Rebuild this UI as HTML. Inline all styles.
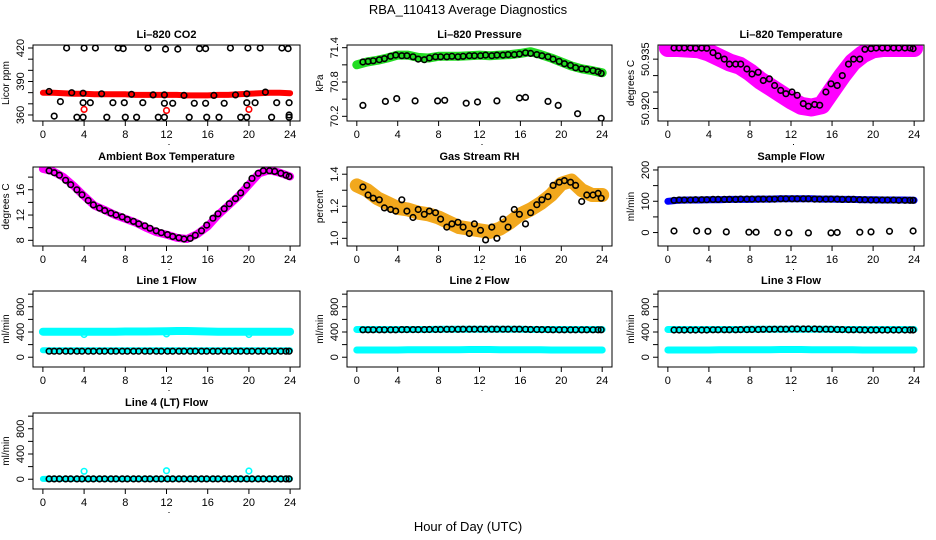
<!DOCTYPE html>
<html><head><meta charset="utf-8"><style>
html,body{margin:0;padding:0;background:#fff;}
svg{display:block;font-family:"Liberation Sans",sans-serif;}
</style></head><body>
<svg id="chart" width="936" height="540" viewBox="0 0 936 540" xmlns="http://www.w3.org/2000/svg">
<text x="468" y="14" text-anchor="middle" font-size="13">RBA_110413  Average Diagnostics</text>
<text x="468" y="531" text-anchor="middle" font-size="13">Hour of Day (UTC)</text>
</svg>
<script>
// ---------- data ----------
const bandHours = [0,1,2,3,4,5,6,7,8,9,10,11,12,13,14,15,16,17,18,19,20,21,22,23,24];
const blackHours = [0.6,1.1,1.6,2.2,2.7,3.3,3.8,4.4,4.9,5.5,6.0,6.6,7.1,7.7,8.2,8.8,9.3,9.9,10.4,11.0,11.5,12.1,12.6,13.2,13.7,14.3,14.8,15.4,15.9,16.5,17.0,17.6,18.1,18.7,19.2,19.8,20.3,20.9,21.4,22.0,22.5,23.1,23.6,23.9];
const xTicks = [0,4,8,12,16,20,24];

// CO2
const co2Band = [380,380,379.5,379,379,378.5,378.5,378.5,378.5,378,378,378,378,378,377.5,377.5,377.5,378,378,378.5,379,379.5,380,380,379.5];
const co2HighHours = [2.3,4.0,5.1,7.3,7.8,10.2,11.9,13.1,15.2,15.8,18.2,19.9,21.1,23.2,23.8];
const co2HighVals = [420,420,420,420,419.5,420,419,419,419.5,419.5,420,420,420,420,419.5];
const co2MidHours = [1.7,3.9,4.6,6.8,7.9,9.7,11.8,12.6,14.7,15.8,17.6,19.8,20.6,22.7,23.9];
const co2MidVals = [372,371,371,371,371,371,370.5,370.5,370.5,370.5,370.5,371,371,371,371];
const co2LowHours = [1.1,3.3,3.9,6.2,8.0,9.1,11.2,11.8,14.2,15.9,17.1,19.2,19.8,22.2,23.9,23.9];
const co2LowVals = [359,358,358,358,358,358,358,358,358,358,358,358,358,358,358,360];
const co2OnHours = [0.6,2.8,3.9,5.7,8.6,10.7,11.8,13.7,16.6,18.7,19.8,21.6];
const co2OnVals = [381,380,379.5,379,378.5,378,378,377.5,377.5,378,379,380.5];
const co2RedOutHours = [4.0,12.0,20.0];
const co2RedOutVals = [365,364,365];

// Pressure
const presBand = [71.10,71.15,71.18,71.22,71.27,71.27,71.23,71.22,71.25,71.25,71.25,71.26,71.27,71.26,71.27,71.28,71.30,71.33,71.28,71.22,71.15,71.08,71.03,71.00,70.96];
const presOnVals = [71.15,71.16,71.17,71.19,71.21,71.25,71.27,71.26,71.26,71.24,71.20,71.19,71.22,71.24,71.24,71.24,71.25,71.24,71.25,71.26,71.26,71.26,71.27,71.26,71.27,71.27,71.28,71.28,71.29,71.31,71.30,71.28,71.26,71.24,71.20,71.16,71.12,71.09,71.05,71.03,71.02,71.00,70.98,70.95];
const presLowHours = [0.6,2.8,3.9,5.7,7.9,8.6,10.7,11.8,13.7,15.9,16.5,18.7,19.7,21.6,23.9];
const presLowVals = [70.39,70.46,70.51,70.47,70.47,70.48,70.43,70.45,70.47,70.52,70.53,70.46,70.39,70.245,70.165];

// Li-820 temperature
const tempBand = [50.9384,50.9384,50.9382,50.9380,50.9370,50.9355,50.9340,50.9330,50.9310,50.9285,50.9265,50.9245,50.9225,50.9208,50.9203,50.9210,50.9255,50.9300,50.9340,50.9365,50.9380,50.9384,50.9384,50.9384,50.9384];
const tempOnVals = [50.9384,50.9384,50.9384,50.9384,50.9383,50.9384,50.9383,50.9370,50.9360,50.9350,50.9335,50.9335,50.9335,50.9320,50.9305,50.9310,50.9285,50.9290,50.9270,50.9255,50.9245,50.9250,50.9240,50.9215,50.9207,50.9212,50.9210,50.9250,50.9275,50.9270,50.9300,50.9335,50.9350,50.9350,50.9380,50.9382,50.9384,50.9384,50.9384,50.9384,50.9384,50.9384,50.9384,50.9382];

// Ambient box temperature
const ambBand = [19.3,18.9,18.0,16.6,15.0,13.5,12.8,12.0,11.4,10.8,10.0,9.3,8.9,8.4,8.2,9.0,10.2,12.0,13.5,15.0,16.8,18.6,19.1,18.7,18.1];
const ambOnVals = [19.0,18.7,18.3,17.5,16.8,16.0,15.2,14.3,13.6,13.1,12.7,12.3,12.0,11.7,11.3,11.0,10.6,10.3,9.9,9.5,9.2,8.9,8.6,8.4,8.2,8.3,8.8,9.5,10.4,11.5,12.2,13.0,13.8,14.6,15.5,16.7,17.8,18.6,19.0,19.0,18.9,18.6,18.3,18.1];

// Gas stream RH
const rhBand = [1.33,1.30,1.25,1.22,1.19,1.18,1.16,1.15,1.13,1.10,1.07,1.06,1.05,1.04,1.06,1.10,1.15,1.18,1.22,1.27,1.34,1.36,1.30,1.27,1.27];
const rhOnVals = [1.32,1.27,1.25,1.24,1.19,1.18,1.17,1.24,1.17,1.13,1.18,1.15,1.17,1.16,1.12,1.07,1.09,1.10,1.07,1.03,1.09,1.05,0.99,1.07,1.00,1.12,1.07,1.18,1.15,1.09,1.16,1.21,1.24,1.26,1.33,1.35,1.36,1.35,1.33,1.23,1.27,1.27,1.28,1.25];

// Sample flow
const sfBand = [100,103,104,104,105,105,106,106,106,107,107,108,108,108,108,107,107,106,106,105,105,104,104,104,103];
const sfOnVals = [103,104,104,104,105,105,105,106,106,106,106,106,107,107,107,107,107,107,107,108,108,108,108,108,108,107,107,107,107,107,106,106,106,105,105,104,104,104,104,104,103,103,103,103];
const sfLowHours = [0.6,2.8,3.9,5.7,7.9,8.6,10.7,11.8,13.7,15.9,16.5,18.7,19.8,21.6,23.9];
const sfLowVals = [5,5,4,2,1,1,0,-1,-1,-1,0,1,2,4,5];

// Line flows
const l1UpperBand = [405,405,405,405,405,405,405,405,408,408,408,410,412,415,415,412,408,405,405,405,405,405,405,405,405];
const l1LowerBand = [110,110,110,110,110,110,110,110,110,110,112,112,112,112,112,112,110,110,110,110,110,110,110,110,110];
const l1BlackVals = [95,95,95,95,95,95,95,95,95,95,95,95,95,95,95,95,95,95,95,95,95,95,95,95,95,95,95,95,95,95,95,95,95,95,95,95,95,95,95,95,95,95,95,95];
const l1OutHours = [4.0,12.0,20.0];
const l1OutVals = [360,370,360];

const l2UpperBand = [440,440,440,440,440,440,440,440,445,445,445,445,445,445,445,445,445,440,440,440,440,440,440,440,440];
const l2LowerBand = [115,115,115,115,115,118,118,118,120,120,120,122,122,122,120,120,120,118,118,115,115,115,115,115,115];
const l2BlackVals = [435,435,435,435,435,435,435,438,438,438,438,438,440,440,440,442,442,442,445,445,445,445,445,445,445,445,445,445,445,442,440,440,438,438,435,435,435,435,435,435,435,435,435,435];

const l3UpperBand = [440,440,440,440,440,440,440,440,445,445,445,445,445,445,445,445,445,440,440,440,440,440,440,440,440];
const l3LowerBand = [115,115,115,115,115,118,118,118,120,120,120,122,122,122,120,120,120,118,118,115,115,115,115,115,115];
const l3BlackVals = [432,432,432,432,432,432,432,435,435,435,435,435,438,438,440,440,442,442,445,445,445,448,448,448,448,448,445,445,442,440,438,435,435,435,432,432,432,432,432,432,432,432,432,432];

const l4Band = [5,5,5,5,5,5,5,5,5,5,5,5,5,5,5,5,5,5,5,5,5,5,5,5,5];
const l4BlackVals = [5,5,5,5,5,5,5,5,5,5,5,5,5,5,5,5,5,5,5,5,5,5,5,5,5,5,5,5,5,5,5,5,5,5,5,5,5,5,5,5,5,5,5,5];
const l4OutHours = [4.0,12.0,20.0];
const l4OutVals = [125,135,130];

// tick definitions (values + printed labels)
const co2Ticks = [360,370,380,390,400,410,420];
const co2TickLabels = ["360","","","390","","","420"];
const presTicks = [70.2,70.5,70.8,71.1,71.4];
const presTickLabels = ["70.2","","70.8","","71.4"];
const tempTicks = [50.920,50.925,50.930,50.935];
const tempTickLabels = ["50.920","","","50.935"];
const ambTicks = [8,10,12,14,16,18];
const ambTickLabels = ["8","","12","","16",""];
const rhTicks = [1.0,1.1,1.2,1.3,1.4];
const rhTickLabels = ["1.0","","1.2","","1.4"];
const sfTicks = [0,50,100,150,200];
const sfTickLabels = ["0","","100","","200"];
const flowTicks = [0,200,400,600,800,1000];
const flowTickLabels = ["0","","400","","800",""];

// ---------- drawing ----------
const NS = "http://www.w3.org/2000/svg";
const svg = document.getElementById("chart");
const colX = [[33,300],[347,612],[658,924]];
const rowY = [[45,121],[167,246],[291,367],[413,489]];

function mk(tag, attrs, parent){
  const e = document.createElementNS(NS, tag);
  for (const k in attrs) e.setAttribute(k, attrs[k]);
  (parent||svg).appendChild(e);
  return e;
}

function panel(name, col, row, title, ylab, ylim, ticks, tickLabels, layers){
  const x0 = colX[col][0], x1 = colX[col][1], y0 = rowY[row][0], y1 = rowY[row][1];
  const g = mk("g", {});
  
  
  const xs = h => x0 + (h + 0.96) / 25.92 * (x1 - x0);
  const ys = v => y1 - (v - ylim[0]) / (ylim[1] - ylim[0]) * (y1 - y0);
  const clipId = "clip-" + name;
  const cp = mk("clipPath", {id: clipId}, g);
  mk("rect", {x: x0, y: y0, width: x1 - x0, height: y1 - y0}, cp);
  const plot = mk("g", {"clip-path": "url(#" + clipId + ")"}, g);
  
  
  for (const L of layers){
    if (L.type === "band"){
      const pts = L.hours.map((h, i) => xs(h).toFixed(1) + "," + ys(L.vals[i]).toFixed(1)).join(" ");
      const pl = mk("polyline", {points: pts, fill: "none", stroke: L.color, "stroke-width": L.w, "stroke-linecap": "round", "stroke-linejoin": "round"}, plot);
      
      
    } else {
      L.hours.forEach((h, i) => {
        const c = mk("circle", {cx: xs(h).toFixed(1), cy: ys(L.vals[i]).toFixed(1), r: L.r || 2.8, fill: "none", stroke: L.color, "stroke-width": L.sw || 1.6}, plot);
        
        
      });
    }
  }
  const box = mk("rect", {x: x0, y: y0, width: x1 - x0, height: y1 - y0, fill: "none", stroke: "#000", "stroke-width": 1}, g);
  
  
  const t = mk("text", {x: (x0 + x1) / 2, y: y0 - 7, "text-anchor": "middle", "font-size": 11, "font-weight": "bold"}, g);
  t.textContent = title;
  
  
  const yl = mk("text", {x: 0, y: 0, "text-anchor": "middle", "font-size": 10, transform: "translate(" + (x0 - 24) + "," + ((y0 + y1) / 2) + ") rotate(-90)"}, g);
  yl.textContent = ylab;
  
  
  // x axis
  const xa = mk("g", {stroke: "#000", "stroke-width": 1}, g);
  
  
  mk("line", {x1: xs(xTicks[0]), x2: xs(xTicks[xTicks.length - 1]), y1: y1, y2: y1}, xa);
  xTicks.forEach(v => {
    mk("line", {x1: xs(v), x2: xs(v), y1: y1, y2: y1 + 5}, xa);
    const tl = mk("text", {x: xs(v), y: y1 + 17, "text-anchor": "middle", "font-size": 11, stroke: "none"}, xa);
    tl.textContent = v;
    
    
  });
  mk("rect", {x: xs(12) + 2, y: y1 + 23, width: 1, height: 1, fill: "#000", stroke: "none"}, xa);
  // y axis
  const ya = mk("g", {stroke: "#000", "stroke-width": 1}, g);
  
  
  ticks.forEach((v, i) => {
    const yy = ys(v);
    if (yy < y0 - 12 || yy > y1 + 1) return;
    mk("line", {x1: x0 - 5, x2: x0, y1: yy, y2: yy}, ya);
    if (tickLabels[i]) {
      const tl = mk("text", {x: 0, y: 0, "text-anchor": "middle", "font-size": 11, stroke: "none", transform: "translate(" + (x0 - 9) + "," + yy + ") rotate(-90)"}, ya);
      tl.textContent = tickLabels[i];
      
      
    }
  });
}

panel("co2", 0, 0, "Li\u2013820 CO2", "Licor ppm", [354.6, 422.7], co2Ticks, co2TickLabels, [
  {type: "band", hours: bandHours, vals: co2Band, color: "#ff0000", w: 6, label: "band"},
  {type: "pts", hours: co2HighHours, vals: co2HighVals, color: "#000", label: "point"},
  {type: "pts", hours: co2MidHours, vals: co2MidVals, color: "#000", label: "point"},
  {type: "pts", hours: co2LowHours, vals: co2LowVals, color: "#000", label: "point"},
  {type: "pts", hours: co2OnHours, vals: co2OnVals, color: "#000", label: "point"},
  {type: "pts", hours: co2RedOutHours, vals: co2RedOutVals, color: "#ff0000", label: "outlier"}
]);
panel("pressure", 1, 0, "Li\u2013820 Pressure", "kPa", [70.118, 71.447], presTicks, presTickLabels, [
  {type: "band", hours: bandHours, vals: presBand, color: "#22dd22", w: 9, label: "band"},
  {type: "pts", hours: blackHours, vals: presOnVals, color: "#000", label: "point"},
  {type: "pts", hours: presLowHours, vals: presLowVals, color: "#000", label: "point"}
]);
panel("li820-temp", 2, 0, "Li\u2013820 Temperature", "degrees C", [50.9162, 50.9393], tempTicks, tempTickLabels, [
  {type: "band", hours: bandHours, vals: tempBand, color: "#ff00ff", w: 18, label: "band"},
  {type: "pts", hours: blackHours, vals: tempOnVals, color: "#000", label: "point"}
]);
panel("ambient-temp", 0, 1, "Ambient Box Temperature", "degrees C", [7.1, 19.6], ambTicks, ambTickLabels, [
  {type: "band", hours: bandHours, vals: ambBand, color: "#ff00ff", w: 8, label: "band"},
  {type: "pts", hours: blackHours, vals: ambOnVals, color: "#000", label: "point"}
]);
panel("gas-rh", 1, 1, "Gas Stream RH", "percent", [0.952, 1.445], rhTicks, rhTickLabels, [
  {type: "band", hours: bandHours, vals: rhBand, color: "#f2a81d", w: 14, label: "band"},
  {type: "pts", hours: blackHours, vals: rhOnVals, color: "#000", label: "point"}
]);
panel("sample-flow", 2, 1, "Sample Flow", "ml/min", [-43, 209.5], sfTicks, sfTickLabels, [
  {type: "band", hours: bandHours, vals: sfBand, color: "#0000ff", w: 7, label: "band"},
  {type: "pts", hours: blackHours, vals: sfOnVals, color: "#000", label: "point"},
  {type: "pts", hours: sfLowHours, vals: sfLowVals, color: "#000", label: "point"}
]);
panel("line1-flow", 0, 2, "Line 1 Flow", "ml/min", [-155, 1050], flowTicks, flowTickLabels, [
  {type: "band", hours: bandHours, vals: l1UpperBand, color: "#00ffff", w: 8, label: "band-upper"},
  {type: "band", hours: bandHours, vals: l1LowerBand, color: "#00ffff", w: 6, label: "band-lower"},
  {type: "pts", hours: blackHours, vals: l1BlackVals, color: "#000", label: "point"},
  {type: "pts", hours: l1OutHours, vals: l1OutVals, color: "#00ffff", label: "outlier"}
]);
panel("line2-flow", 1, 2, "Line 2 Flow", "ml/min", [-155, 1050], flowTicks, flowTickLabels, [
  {type: "band", hours: bandHours, vals: l2UpperBand, color: "#00ffff", w: 7, label: "band-upper"},
  {type: "band", hours: bandHours, vals: l2LowerBand, color: "#00ffff", w: 7, label: "band-lower"},
  {type: "pts", hours: blackHours, vals: l2BlackVals, color: "#000", label: "point"}
]);
panel("line3-flow", 2, 2, "Line 3 Flow", "ml/min", [-155, 1050], flowTicks, flowTickLabels, [
  {type: "band", hours: bandHours, vals: l3UpperBand, color: "#00ffff", w: 7, label: "band-upper"},
  {type: "band", hours: bandHours, vals: l3LowerBand, color: "#00ffff", w: 7, label: "band-lower"},
  {type: "pts", hours: blackHours, vals: l3BlackVals, color: "#000", label: "point"}
]);
panel("line4-flow", 0, 3, "Line 4 (LT) Flow", "ml/min", [-155, 1050], flowTicks, flowTickLabels, [
  {type: "band", hours: bandHours, vals: l4Band, color: "#00ffff", w: 6, label: "band"},
  {type: "pts", hours: blackHours, vals: l4BlackVals, color: "#000", label: "point"},
  {type: "pts", hours: l4OutHours, vals: l4OutVals, color: "#00ffff", label: "outlier"}
]);
</script>
</body></html>
